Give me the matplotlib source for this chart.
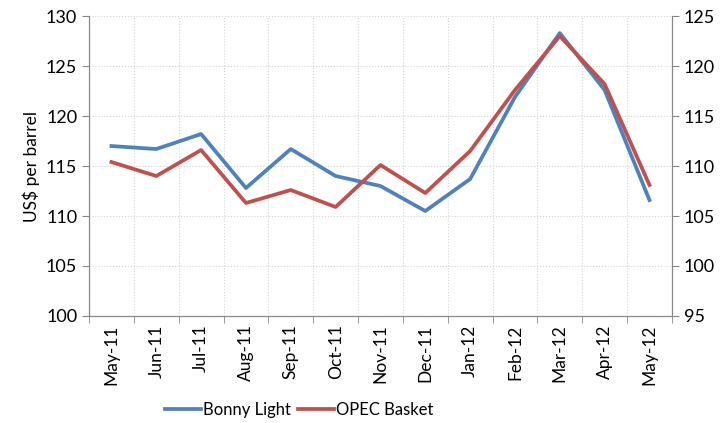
import numpy as np
import matplotlib.pyplot as plt

plt.rcParams['font.family'] = ['Lato', 'DejaVu Sans']

# Данные
months = ['May-11', 'Jun-11', 'Jul-11', 'Aug-11', 'Sep-11', 'Oct-11', 'Nov-11',
          'Dec-11', 'Jan-12', 'Feb-12', 'Mar-12', 'Apr-12', 'May-12']
bonny_light = [117.0, 116.7, 118.2, 112.8, 116.7, 114.0, 113.0,
               110.5, 113.7, 121.9, 128.3, 122.6, 111.6]
opec_basket = [110.4, 109.0, 111.6, 106.3, 107.6, 105.9, 110.1,
               107.3, 111.5, 117.6, 123.0, 118.2, 108.1]

fig = plt.figure(figsize=(7.24, 4.23), dpi=100)
ax = fig.add_axes([0.123, 0.253, 0.805, 0.709])
ax2 = ax.twinx()

x = np.arange(len(months))
l1, = ax.plot(x, bonny_light, color='#4F81BD', lw=2.7, label='Bonny Light')
l2, = ax2.plot(x, opec_basket, color='#C0504D', lw=2.7, label='OPEC Basket')

ax.set_xlim(-0.5, len(months) - 0.5)
ax.set_ylim(100, 130)
ax2.set_ylim(95, 125)
ax.set_yticks(range(100, 131, 5))
ax2.set_yticks(range(95, 126, 5))

# Сетка по границам категорий
ax.set_xticks(x)
ax.set_xticklabels(months, rotation=90, fontsize=12.5)
ax.set_xticks(np.arange(-0.5, len(months)), minor=True)
ax.tick_params(axis='x', which='major', length=0, pad=6)
ax.tick_params(axis='x', which='minor', length=5, color='#888888')
ax.grid(True, which='minor', axis='x', color='#d4d4d4', lw=0.8, ls=':')
ax.grid(True, which='major', axis='y', color='#d4d4d4', lw=0.8, ls=':')

ax.tick_params(axis='y', labelsize=13, length=5, color='#888888')
ax2.tick_params(axis='y', labelsize=13, length=5, color='#888888')
ax.set_ylabel('US$ per barrel', fontsize=12.5, labelpad=4)

for a in (ax, ax2):
    a.spines['top'].set_visible(False)
    for s in ('left', 'right', 'bottom'):
        a.spines[s].set_color('#888888')

fig.legend(handles=[l1, l2], loc='center', bbox_to_anchor=(0.413, 0.03),
           ncol=2, frameon=False, fontsize=12, handlelength=2.2,
           columnspacing=0.4, handletextpad=0.1)

plt.savefig('out.png', dpi=100)
